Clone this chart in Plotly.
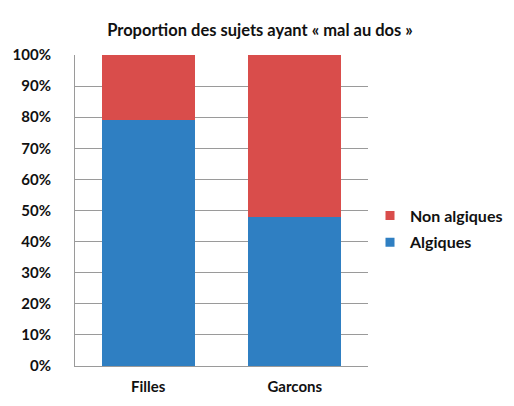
import plotly.graph_objects as go

categories = ["Filles", "Garcons"]
algiques = [0.79, 0.48]
non_algiques = [0.21, 0.52]
y_ticks = [0, 0.1, 0.2, 0.3, 0.4, 0.5, 0.6, 0.7, 0.8, 0.9, 1.0]
y_labels = ["0%", "10%", "20%", "30%", "40%", "50%", "60%", "70%", "80%", "90%", "100%"]

font = "Lato, 'Open Sans', sans-serif"
blue = "#2f7fc2"
red = "#d94d4b"

fig = go.Figure()
fig.add_trace(go.Bar(x=categories, y=algiques, name="Algiques", showlegend=False,
                     marker=dict(color=blue, line=dict(width=0))))
fig.add_trace(go.Bar(x=categories, y=non_algiques, name="Non algiques", showlegend=False,
                     marker=dict(color=red, line=dict(width=0))))
# legend-only entries with small square swatches
fig.add_trace(go.Scatter(x=[None], y=[None], mode="markers", name="<b>Non algiques</b>",
                         legendgroup="n",
                         marker=dict(symbol="square", size=9, color=red)))
fig.add_trace(go.Scatter(x=[None], y=[None], mode="markers", name="<b>Algiques</b>",
                         legendgroup="a",
                         marker=dict(symbol="square", size=9, color=blue)))

# the page body adds an 8px offset, so margins are set 8px smaller on left/top
fig.update_layout(
    width=514, height=406,
    barmode="stack", bargap=0.365,
    paper_bgcolor="white", plot_bgcolor="white",
    margin=dict(l=67, r=154, t=47, b=48, autoexpand=False),
    font=dict(family=font, color="#111111"),
    title=dict(text="<b>Proportion des sujets ayant « mal au dos »</b>",
               x=252 / 514, xanchor="center", xref="container",
               y=1 - 22 / 406, yref="container", yanchor="middle",
               font=dict(size=16.5, family=font)),
    legend=dict(x=362 / 514, xref="container", xanchor="left",
                y=1 - 221 / 406, yref="container", yanchor="middle",
                traceorder="grouped", font=dict(size=16, family=font),
                itemwidth=30, tracegroupgap=3, bgcolor="rgba(0,0,0,0)"),
    showlegend=True,
)
fig.update_yaxes(range=[0, 1], tickvals=y_ticks, ticktext=y_labels,
                 showgrid=True, gridcolor="#9a9a9a", gridwidth=1,
                 showline=True, linecolor="#9a9a9a", linewidth=1,
                 ticks="", ticklabelstandoff=20, automargin=False,
                 tickfont=dict(size=15, family=font, weight="bold"), zeroline=False)
fig.update_xaxes(showline=True, linecolor="#9a9a9a", linewidth=1,
                 ticks="", ticklabelstandoff=7, automargin=False,
                 tickfont=dict(size=15, family=font, weight="bold"))

fig.write_html("out.html")
